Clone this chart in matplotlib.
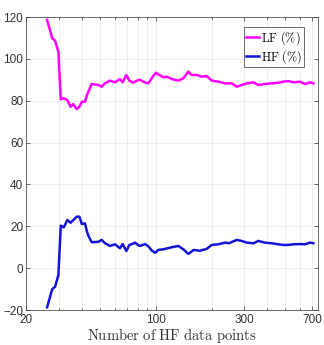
import matplotlib
matplotlib.use("Agg")
import matplotlib.pyplot as plt
from matplotlib.ticker import FixedLocator, NullFormatter

plt.rcParams['mathtext.fontset'] = 'cm'
plt.rcParams['font.family'] = ['Liberation Sans', 'DejaVu Sans']

n_points = [26, 27.7, 28.7, 29.9, 30.8, 32.0, 33.4, 34.8, 36.0, 37.5, 38.8, 40.0,
            41.6, 42.6, 43.4, 45.2, 49.1, 51.2, 53.3, 56.8, 60.4, 64.2, 66.4, 69.5,
            72.2, 75.8, 77.4, 80.6, 82.3, 85.8, 87.6, 91.2, 93.2, 95.1, 99.1, 100.4,
            103.2, 104.7, 110, 114.6, 119.7, 122, 132.5, 141, 150, 156.4, 160, 166.4,
            173.6, 177, 188.4, 200.5, 217.8, 236.6, 249, 257, 273.6, 291, 310, 336.6,
            357.5, 388, 422, 458, 487, 519, 552, 600, 638, 680, 708]

lf_pct = [118.6, 109.8, 108.7, 103.4, 80.7, 81.2, 80.3, 77.1, 78.4, 76.0, 77.1, 79.5,
          79.5, 82.7, 84.3, 88.0, 87.5, 86.7, 88.3, 89.6, 88.8, 90.4, 88.8, 92.3,
          89.6, 88.6, 89.1, 89.9, 90.0, 89.1, 88.8, 88.3, 89.5, 90.7, 92.8, 93.4,
          92.6, 92.3, 91.2, 91.5, 90.8, 90.4, 89.6, 90.7, 93.9, 92.3, 92.3, 92.3,
          91.8, 91.5, 91.8, 89.6, 89.1, 88.3, 88.3, 88.3, 86.7, 87.5, 88.3, 88.8,
          87.5, 88.0, 88.3, 88.6, 89.1, 89.4, 88.8, 89.1, 88.0, 88.8, 88.3]

hf_pct = [-18.7, -10.0, -8.9, -3.3, 20.3, 19.5, 23.0, 21.7, 23.0, 24.6, 24.6, 21.1,
          21.4, 17.5, 15.5, 12.4, 12.6, 13.5, 11.9, 10.6, 11.4, 9.5, 11.5, 8.2,
          11.1, 11.8, 12.2, 11.0, 10.6, 11.2, 11.5, 10.5, 9.5, 8.5, 7.4, 7.6,
          8.7, 8.8, 9.0, 9.4, 9.8, 10.0, 10.6, 9.0, 6.8, 8.0, 8.7, 8.5,
          8.3, 8.6, 9.2, 11.1, 11.4, 12.2, 11.9, 12.5, 13.5, 13.0, 12.2, 11.9,
          13.0, 12.2, 11.9, 11.4, 11.1, 11.1, 11.4, 11.5, 11.4, 12.2, 11.9]

xticks = [20, 100, 300, 700]
xminor = [30, 40, 50, 60, 70, 80, 90, 200, 400, 500, 600]
yticks = [-20, 0, 20, 40, 60, 80, 100, 120]

fig = plt.figure(figsize=(3.24, 3.45), dpi=100)
ax = fig.add_axes([0.0802, 0.1014, 0.9013, 0.8493])

ax.plot(n_points, lf_pct, color='#ff00ff', lw=1.8, label=r'$\mathrm{LF\ (\%)}$')
ax.plot(n_points, hf_pct, color='#1414d8', lw=1.8, label=r'$\mathrm{HF\ (\%)}$')

ax.set_xscale('log')
ax.set_xlim(20, 750)
ax.set_ylim(-20, 120)
ax.xaxis.set_major_locator(FixedLocator(xticks))
ax.set_xticklabels([str(t) for t in xticks])
ax.xaxis.set_minor_locator(FixedLocator(xminor))
ax.xaxis.set_minor_formatter(NullFormatter())
ax.set_yticks(yticks)

ax.grid(True, which='both', color='#ececec', lw=0.6)
ax.set_axisbelow(True)
ax.tick_params(which='both', direction='in', top=True, right=True,
               colors='#333333', labelsize=8.5, width=0.5)
ax.tick_params(which='major', length=3)
ax.tick_params(which='minor', length=1.8)
ax.tick_params(axis='x', pad=3)
ax.tick_params(axis='y', pad=2)
for s in ax.spines.values():
    s.set_color('#333333')
    s.set_linewidth(0.5)

ax.set_xlabel(r'$\mathrm{Number\ of\ HF\ data\ points}$', fontsize=10.5, labelpad=0, color='#333333')

leg = ax.legend(loc='upper right', bbox_to_anchor=(0.952, 0.966), fontsize=8.8,
                handlelength=1.1, handletextpad=0.15, borderpad=0.15, labelspacing=0.1,
                fancybox=False, framealpha=1, borderaxespad=0.0, handleheight=0.6)
leg.get_frame().set_edgecolor('#333333')
leg.get_frame().set_linewidth(0.5)

fig.savefig('out.png', dpi=100)
